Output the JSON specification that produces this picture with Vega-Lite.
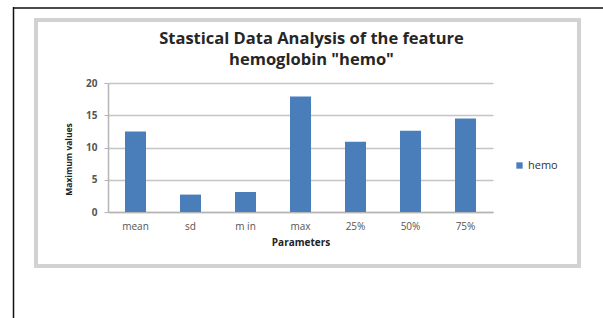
{
  "$schema": "https://vega.github.io/schema/vega-lite/v6.json",
  "width": 543,
  "height": 246,
  "autosize": {"type": "none"},
  "padding": {"left": 36, "top": 20, "right": 24, "bottom": 52},
  "background": "white",
  "config": {
    "view": {"stroke": "#d2d2d2", "strokeWidth": 4},
    "font": "Open Sans"
  },
  "title": {
    "text": ["Stastical Data Analysis of the feature", "hemoglobin \"hemo\""],
    "fontSize": 16.5,
    "fontWeight": "bold",
    "color": "#262626",
    "anchor": "middle",
    "lineHeight": 21,
    "dx": 4,
    "dy": 67
  },
  "data": {
    "values": [
      {"param": "mean", "value": 12.5, "series": "hemo"},
      {"param": "sd", "value": 2.7, "series": "hemo"},
      {"param": "m in", "value": 3.1, "series": "hemo"},
      {"param": "max", "value": 17.9, "series": "hemo"},
      {"param": "25%", "value": 10.9, "series": "hemo"},
      {"param": "50%", "value": 12.6, "series": "hemo"},
      {"param": "75%", "value": 14.5, "series": "hemo"}
    ]
  },
  "layer": [
    {
      "mark": {"type": "bar"},
      "encoding": {
        "x": {
          "field": "param",
          "type": "nominal",
          "sort": null,
          "scale": {"range": [72, 457], "paddingInner": 0.618, "paddingOuter": 0.309},
          "axis": {
            "orient": "bottom",
            "offset": -54,
            "title": "Parameters",
            "titleFontSize": 10,
            "titleFontWeight": "bold",
            "titleColor": "#222",
            "titlePadding": 6,
            "labelAngle": 0,
            "labelFontSize": 10,
            "labelColor": "#555",
            "labelPadding": 9,
            "ticks": false,
            "grid": false,
            "domain": true,
            "domainColor": "#b5b5b5",
            "domainWidth": 1.5
          }
        },
        "y": {
          "field": "value",
          "type": "quantitative",
          "scale": {"domain": [0, 20], "range": [192, 63], "nice": false, "zero": true},
          "axis": {
            "orient": "left",
            "offset": -72,
            "values": [0, 5, 10, 15, 20],
            "title": "Maximum values",
            "titleFontSize": 8.5,
            "titleFontWeight": "bold",
            "titleColor": "#222",
            "titlePadding": 12,
            "titleY": 139,
            "labelFontSize": 10,
            "labelFontWeight": "bold",
            "labelColor": "#555",
            "labelPadding": 7,
            "ticks": true,
            "tickSize": 4,
            "tickColor": "#b5b5b5",
            "grid": true,
            "gridColor": "#c4c4c4",
            "gridWidth": 1.5,
            "domain": true,
            "domainColor": "#b5b5b5",
            "domainWidth": 1.5
          }
        },
        "color": {
          "field": "series",
          "type": "nominal",
          "scale": {"range": ["#4a7ebb"]},
          "legend": {
            "title": null,
            "orient": "none",
            "legendX": 478,
            "legendY": 140,
            "symbolType": "square",
            "symbolSize": 40,
            "labelFontSize": 11,
            "labelColor": "#333",
            "labelOffset": 3
          }
        }
      }
    },
    {
      "mark": {"type": "point", "opacity": 0},
      "encoding": {
        "x": {
          "field": "param",
          "type": "nominal",
          "sort": null,
          "scale": {"type": "point", "range": [-23, 600]},
          "axis": {"orient": "top", "offset": 12.5, "title": null, "labels": false, "ticks": false, "grid": false, "domainColor": "#111", "domainWidth": 1.5}
        },
        "y": {
          "field": "value",
          "type": "quantitative",
          "scale": {"range": [320, -13.5]},
          "axis": {"orient": "left", "offset": 23, "title": null, "labels": false, "ticks": false, "grid": false, "domainColor": "#111", "domainWidth": 1.5}
        }
      }
    }
  ],
  "resolve": {
    "scale": {"x": "independent", "y": "independent"},
    "axis": {"x": "independent", "y": "independent"}
  }
}
